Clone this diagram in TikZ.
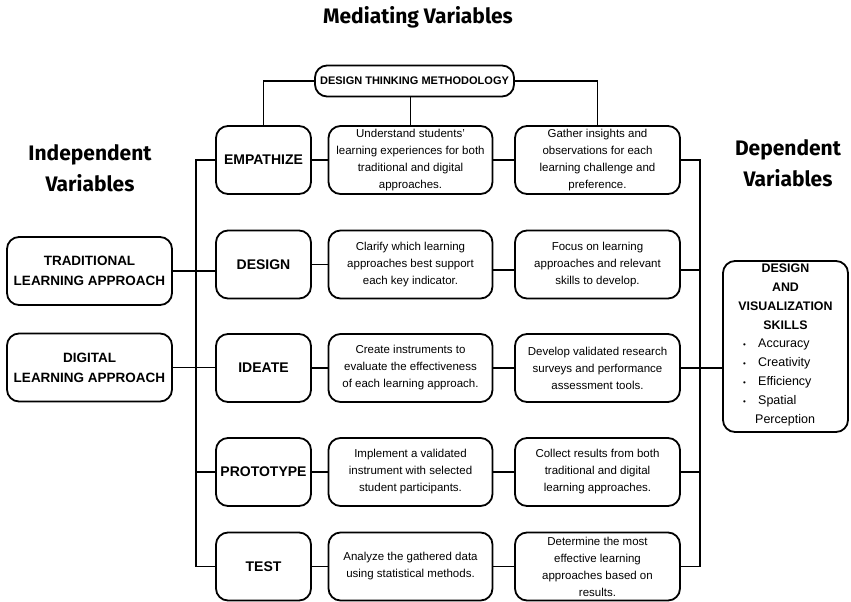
\documentclass[tikz,border=0pt]{standalone}
\usepackage{fontspec}
\setmainfont{Liberation Sans}
\newfontfamily\headfont{Fira Sans}
\begin{document}
\begin{tikzpicture}[x=1pt,y=-1pt,
  conn/.style={line width=1.8pt, black},
  rbox/.style={draw, line width=1.8pt, rounded corners=12pt, inner sep=2pt, align=center},
  stagebox/.style={rbox, minimum width=95pt, minimum height=68pt, font=\fontsize{14}{16}\selectfont\bfseries},
  txtbox/.style={rbox, minimum width=164pt, minimum height=68pt, font=\fontsize{11.5}{17}\selectfont},
  ivbox/.style={rbox, minimum width=165pt, minimum height=68pt, font=\fontsize{13.5}{20}\selectfont\bfseries},
  head/.style={font=\headfont\fontsize{21}{31}\selectfont\bfseries, align=center}
]
\useasboundingbox (0,0) rectangle (851,602);

% headings
\node[head] (med) at (418,17) {Mediating Variables};
\node[head] (iv) at (90,168) {Independent\\Variables};
\node[head] (depv) at (788,163) {Dependent\\Variables};

% methodology box
\node[rbox, minimum width=199pt, minimum height=31pt, font=\fontsize{11}{13}\selectfont\bfseries] (dtm) at (414.5,81) {DESIGN THINKING METHODOLOGY};

% stages
\node[stagebox] (emp) at (263.5,160) {EMPATHIZE};
\node[stagebox] (des) at (263.5,264.5) {DESIGN};
\node[stagebox] (ide) at (263.5,368) {IDEATE};
\node[stagebox] (pro) at (263.5,472) {PROTOTYPE};
\node[stagebox] (tst) at (263.5,566.5) {TEST};

% middle column
\node[txtbox] (und) at (410.5,160) {Understand students'\\learning experiences for both\\traditional and digital\\approaches.};
\node[txtbox] (cla) at (410.5,264.5) {Clarify which learning\\approaches best support\\each key indicator.};
\node[txtbox] (cre) at (410.5,368) {Create instruments to\\evaluate the effectiveness\\of each learning approach.};
\node[txtbox] (imp) at (410.5,472) {Implement a validated\\instrument with selected\\student participants.};
\node[txtbox] (ana) at (410.5,566.5) {Analyze the gathered data\\using statistical methods.};

% right column
\node[txtbox, minimum width=165pt] (gat) at (597.5,160) {Gather insights and\\observations for each\\learning challenge and\\preference.};
\node[txtbox, minimum width=165pt] (foc) at (597.5,264.5) {Focus on learning\\approaches and relevant\\skills to develop.};
\node[txtbox, minimum width=165pt] (dev) at (597.5,368) {Develop validated research\\surveys and performance\\assessment tools.};
\node[txtbox, minimum width=165pt] (col) at (597.5,472) {Collect results from both\\traditional and digital\\learning approaches.};
\node[txtbox, minimum width=165pt] (det) at (597.5,566.5) {Determine the most\\effective learning\\approaches based on\\results.};

% independent variables
\node[ivbox] (trad) at (89.5,271) {TRADITIONAL\\LEARNING APPROACH};
\node[ivbox] (dig) at (89.5,367.5) {DIGITAL\\LEARNING APPROACH};

% dependent variable
\node[rbox, minimum width=125pt, minimum height=171pt] (dv) at (785.5,346.5) {};
\node[align=center, inner sep=0pt, font=\fontsize{12.4}{19}\selectfont\bfseries] (dvh) at (785.5,297) {DESIGN\\AND\\VISUALIZATION\\SKILLS};
\node[align=left, inner sep=0pt, anchor=west, font=\fontsize{12.5}{19}\selectfont] (dvl) at (743,382.5) {%
\makebox[15pt][l]{\fontsize{8}{8}\selectfont\textbullet}Accuracy\\
\makebox[15pt][l]{\fontsize{8}{8}\selectfont\textbullet}Creativity\\
\makebox[15pt][l]{\fontsize{8}{8}\selectfont\textbullet}Efficiency\\
\makebox[15pt][l]{\fontsize{8}{8}\selectfont\textbullet}Spatial\\
\hspace{12pt}Perception};

% coordinates of the bus lines
\coordinate (L) at (196,0);
\coordinate (R) at (700,0);

% methodology connectors
\draw[conn] (dtm.west) -| (emp.north);
\draw[conn] (dtm.south -| und.north) -- (und.north);
\draw[conn] (dtm.east) -| (gat.north);

% left bus
\draw[conn] (emp.west) -| (L |- tst.west) -- (tst.west);
\draw[conn] (pro.west) -- (pro.west -| L);
\draw[conn] (trad.east) -- (trad.east -| des.west);
\draw[conn] (dig.east) -- (dig.east -| ide.west);

% row connectors
\draw[conn] (emp) -- (und); \draw[conn] (und) -- (gat);
\draw[conn] (des) -- (cla); \draw[conn] (cla.east |- 0,270) -- (foc.west |- 0,270);
\draw[conn] (ide) -- (cre); \draw[conn] (cre) -- (dev);
\draw[conn] (pro) -- (imp); \draw[conn] (imp) -- (col);
\draw[conn] (tst) -- (ana); \draw[conn] (ana) -- (det);

% right bus
\draw[conn] (gat.east) -| (R |- det.east) -- (det.east);
\draw[conn] (foc.east |- 0,270) -- (R |- 0,270);
\draw[conn] (col.east) -- (col.east -| R);
\draw[conn] (dev.east) -- (dev.east -| dv.west);
\end{tikzpicture}
\end{document}
